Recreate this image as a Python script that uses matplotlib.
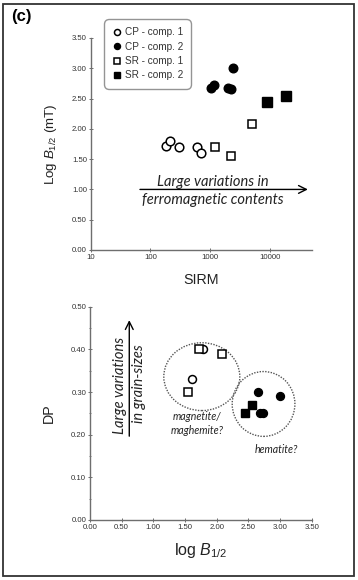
import numpy as np
import matplotlib
matplotlib.use("Agg")
import matplotlib.pyplot as plt
from matplotlib.patches import Ellipse, Rectangle

plt.rcParams['font.family'] = ['Liberation Sans', 'DejaVu Sans']
plt.rcParams['mathtext.fontset'] = 'custom'
plt.rcParams['mathtext.it'] = 'Liberation Sans:italic'
plt.rcParams['mathtext.rm'] = 'Liberation Sans'

# top panel: SIRM vs log B1/2
cp1_sirm = [180, 212, 300, 600, 700]
cp1_b = [1.71, 1.80, 1.70, 1.70, 1.60]
cp2_sirm = [1050, 1150, 1950, 2200, 2450]
cp2_b = [2.68, 2.72, 2.67, 2.65, 3.00]
sr1_sirm = [1200, 2200, 5100]
sr1_b = [1.70, 1.55, 2.08]
sr2_sirm = [8900, 18500]
sr2_b = [2.45, 2.54]

# bottom panel: log B1/2 vs DP
cp1_lb = [1.79, 1.61]
cp1_dp = [0.40, 0.33]
cp2_lb = [2.65, 3.00, 2.69, 2.73]
cp2_dp = [0.30, 0.29, 0.25, 0.25]
sr1_lb = [1.72, 2.08, 1.55]
sr1_dp = [0.40, 0.39, 0.30]
sr2_lb = [2.45, 2.55]
sr2_dp = [0.25, 0.27]

axc = '#6e6e6e'
txc = '#222222'
ms = 6.2
anno_font = ['Lato', 'DejaVu Sans']

fig = plt.figure(figsize=(3.58, 5.8), dpi=100)

fig.patches.append(Rectangle((3/358, 4/580), 351/358, 572/580, transform=fig.transFigure,
                             fill=False, edgecolor='#333333', linewidth=1.3))
fig.text(11/358, 1-17/580, '(c)', fontsize=12, fontweight='bold', va='center')


def style(ax):
    for s in ['top', 'right']:
        ax.spines[s].set_visible(False)
    for s in ['left', 'bottom']:
        ax.spines[s].set_color(axc)
        ax.spines[s].set_linewidth(1.0)
    ax.tick_params(colors=axc, labelcolor='#333333', labelsize=5.6, length=2.5, width=0.7,
                   direction='inout', pad=1.5)
    ax.tick_params(which='minor', colors=axc, length=1.5, width=0.6, direction='inout')


# ---- top
ax1 = fig.add_axes([90.7/358, (580-250)/580, (311.7-90.7)/358, 212/580])
ax1.set_xscale('log')
ax1.set_xlim(10, 50000)
ax1.set_ylim(0, 3.5)
ax1.set_xticks([10, 100, 1000, 10000])
ax1.set_xticklabels(['10', '100', '1000', '10000'])
ax1.xaxis.set_minor_locator(matplotlib.ticker.NullLocator())
ax1.set_yticks(np.arange(0, 3.51, 0.5))
ax1.set_yticklabels(['%.2f' % v for v in np.arange(0, 3.51, 0.5)])
style(ax1)

ax1.plot(cp1_sirm, cp1_b, 'o', mfc='white', mec='black', mew=1.1, ms=ms, label='CP - comp. 1', clip_on=False)
ax1.plot(cp2_sirm, cp2_b, 'o', mfc='black', mec='black', ms=ms, label='CP - comp. 2', clip_on=False)
ax1.plot(sr1_sirm, sr1_b, 's', mfc='white', mec='black', mew=1.1, ms=ms, label='SR - comp. 1', clip_on=False)
ax1.plot(sr2_sirm, sr2_b, 's', mfc='black', mec='black', ms=ms + 0.5, label='SR - comp. 2', clip_on=False)

ax1.set_xlabel('SIRM', fontsize=10.3, color=txc, labelpad=9)
ax1.set_ylabel('Log $\\mathit{B}_{1/2}$ (mT)', fontsize=9.6, color=txc, labelpad=9)

leg = fig.legend(loc='upper left', bbox_to_anchor=(101/358, 1-16/580), fontsize=7.2,
                 frameon=True, fancybox=True, edgecolor='#7a7a7a', handletextpad=0.3,
                 borderpad=0.6, labelspacing=0.45, handlelength=1.0, markerscale=0.7)
leg.get_frame().set_linewidth(1.0)
leg.get_frame().set_boxstyle('round', pad=0.2, rounding_size=0.5)
for t in leg.get_texts():
    t.set_color('#333333')

ax1.annotate('', xy=(48000, 1.0), xytext=(60, 1.0),
             arrowprops=dict(arrowstyle='->', color='black', lw=1.0, mutation_scale=14))
ax1.text(1100, 1.12, 'Large variations in', fontsize=10.5, style='italic',
         family=anno_font, ha='center', va='center', color=txc)
ax1.text(1100, 0.82, 'ferromagnetic contents', fontsize=10.5, style='italic',
         family=anno_font, ha='center', va='center', color=txc)

# ---- bottom
ax2 = fig.add_axes([90/358, 60/580, (311.7-90)/358, 213.3/580])
ax2.set_xlim(0, 3.5)
ax2.set_ylim(0, 0.5)
ax2.set_xticks(np.arange(0, 3.51, 0.5))
ax2.set_xticklabels(['%.2f' % v for v in np.arange(0, 3.51, 0.5)])
ax2.set_yticks(np.arange(0, 0.51, 0.1))
ax2.set_yticklabels(['%.2f' % v for v in np.arange(0, 0.51, 0.1)])
ax2.yaxis.set_minor_locator(matplotlib.ticker.MultipleLocator(0.05))
style(ax2)

ax2.plot(cp1_lb, cp1_dp, 'o', mfc='white', mec='black', mew=1.1, ms=ms - 0.5, clip_on=False)
ax2.plot(cp2_lb, cp2_dp, 'o', mfc='black', mec='black', ms=ms - 0.5, clip_on=False)
ax2.plot(sr1_lb, sr1_dp, 's', mfc='white', mec='black', mew=1.1, ms=ms - 0.3, clip_on=False)
ax2.plot(sr2_lb, sr2_dp, 's', mfc='black', mec='black', ms=ms, clip_on=False)

ax2.add_patch(Ellipse((1.765, 0.336), 1.2, 0.159, angle=0, fill=False,
                      edgecolor='#555555', linestyle=(0, (1, 1)), linewidth=1.0))
ax2.add_patch(Ellipse((2.74, 0.272), 0.99, 0.152, angle=0, fill=False,
                      edgecolor='#555555', linestyle=(0, (1, 1)), linewidth=1.0))
ax2.text(1.69, 0.226, 'magnetite/\nmaghemite?', fontsize=7.6, style='italic',
         family=anno_font, ha='center', va='center', linespacing=1.3, color=txc)
ax2.text(2.95, 0.165, 'hematite?', fontsize=7.6, style='italic',
         family=anno_font, ha='center', va='center', color=txc)

ax2.annotate('', xy=(0.62, 0.475), xytext=(0.62, 0.19),
             arrowprops=dict(arrowstyle='->', color='black', lw=1.0, mutation_scale=14))
ax2.text(0.47, 0.315, 'Large variations', fontsize=10.5, style='italic', rotation=90,
         family=anno_font, ha='center', va='center', color=txc)
ax2.text(0.78, 0.32, 'in grain-sizes', fontsize=10.5, style='italic', rotation=90,
         family=anno_font, ha='center', va='center', color=txc)

ax2.set_xlabel('log $\\mathit{B}_{1/2}$', fontsize=11.5, color=txc, labelpad=7)
ax2.set_ylabel('DP', fontsize=10.3, color=txc, labelpad=11)

fig.savefig('out.png', dpi=100)
